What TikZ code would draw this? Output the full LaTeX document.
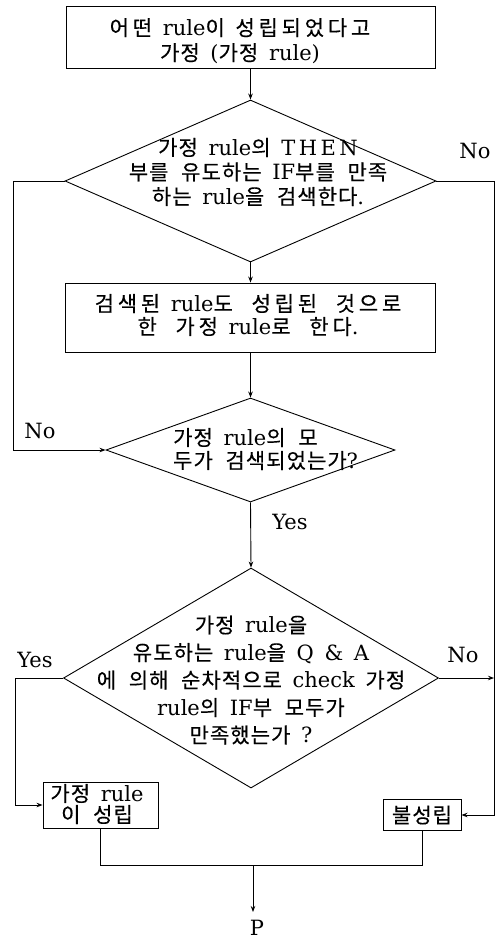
\documentclass[tikz,border=0pt]{standalone}
\usepackage{fontspec}
\setmainfont{DejaVu Serif}[WordSpace=1.6]
\newfontfamily\kr{Noto Sans CJK KR}[Scale=1.0,WordSpace=2.2,FakeBold=0.3,LetterSpace=5]
\newfontfamily\krw{Noto Sans CJK KR}[Scale=1.0,WordSpace=2.2,FakeBold=0.3,LetterSpace=18]
\newcommand\K[1]{{\kr #1}}
\newcommand\KW[1]{{\krw #1}}
\usetikzlibrary{shapes.geometric,arrows.meta,calc}
\tikzset{
  boxstyle/.style={draw, rectangle, line width=0.9pt, inner sep=0pt},
  dia/.style={draw, diamond, line width=0.9pt, inner sep=0pt},
  txt/.style={font=\fontsize{21}{25}\selectfont, align=center, inner sep=0pt},
  conn/.style={line width=0.9pt},
  arr/.style={conn, -{Stealth[length=6pt,width=4.5pt]}},
}
\begin{document}
\begin{tikzpicture}[x=1pt,y=-1pt]
\useasboundingbox (0,0) rectangle (502,940);
% boxes and diamonds
\node[boxstyle, minimum width=369pt, minimum height=62pt] (top) at (250.5,37) {};
\node[txt] (topt) at (240,41) {\KW{어떤} rule\K{이} \KW{성립되었다고}\\\K{가정} (\K{가정} rule)};

\node[dia, minimum width=371pt, minimum height=162pt] (d1) at (250.5,181) {};
\node[txt, font=\fontsize{21}{24.5}\selectfont] (d1t) at (258,172) {\K{가정} rule\K{의} T\,H\,E\,N\\\K{부를 유도하는} IF\K{부를 만족}\\\K{하는} rule\K{을 검색한다}.};

\node[boxstyle, minimum width=370pt, minimum height=69pt] (box2) at (250.5,317.5) {};
\node[txt, font=\fontsize{21}{23}\selectfont] (box2t) at (248,315) {\KW{검색된} rule\KW{도 성립된 것으로}\\\KW{한 가정} rule\KW{로 한다}.};

\node[dia, minimum width=289pt, minimum height=104pt] (d2) at (250.5,450) {};
\node[txt, align=left, anchor=west, font=\fontsize{21}{23}\selectfont] (d2t) at (173,449) {\K{가정} rule\K{의 모}\\\K{두가 검색되었는가}?};

\node[dia, minimum width=375pt, minimum height=220pt] (d3) at (251,678) {};
\node[txt, font=\fontsize{21}{27.5}\selectfont] (d3t) at (251,680) {\K{가정} rule\K{을}\\\K{유도하는} rule\K{을} Q \& A\\\K{에 의해 순차적으로} check \K{가정}\\rule\K{의} IF\K{부 모두가}\\\K{만족했는가} ?};

\node[boxstyle, minimum width=115pt, minimum height=46pt] (box3) at (100.5,805) {};
\node[txt, font=\fontsize{21}{21}\selectfont] (box3t) at (97,804) {\K{가정} rule\\\K{이 성립}};

\node[boxstyle, minimum width=78pt, minimum height=31pt] (box4) at (422,815) {};
\node[txt] (box4t) at (422,815) {\K{불성립}};

\node[txt] (P) at (257,928) {P};

% labels
\node[txt] (no1) at (475,151) {No};
\node[txt] (no2) at (40,431) {No};
\node[txt] (yes1) at (290,522) {Yes};
\node[txt] (yes2) at (35,660) {Yes};
\node[txt] (no3) at (463,655) {No};

% connectors
\coordinate (rr) at (494,0);
\coordinate (ll) at (13,0);
\coordinate (ll2) at (15,0);
\coordinate (j) at (253,865);
\coordinate (pend) at (253,912);

\draw[arr] (top.south) -- (d1.north);
\draw[arr] (d1.south) -- (box2.north);
\draw[arr] (box2.south) -- (d2.north);
\draw[arr] (d2.south) -- (d3.north);
\draw[arr] (d1.west) -- (d1.west -| ll) |- (d2.west);
\draw[arr] (d1.east) -- (d1.east -| rr) |- (box4.east);
\draw[arr] (d3.east) -- (d3.east -| rr);
\draw[arr] (d3.west) -- (d3.west -| ll2) |- (box3.west);
\draw[conn] (box3.south) -- (box3.south |- j) -| (box4.south);
\draw[arr] (j) -- (pend);
\end{tikzpicture}
\end{document}
